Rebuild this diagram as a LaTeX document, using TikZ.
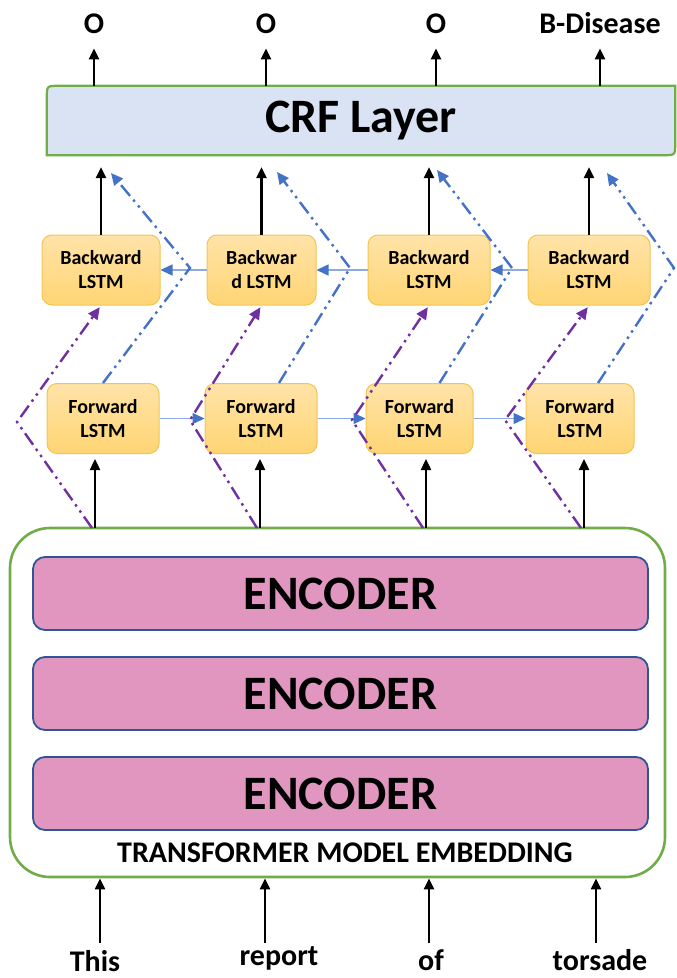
\documentclass[tikz,border=0pt]{standalone}
\usepackage{fontspec}
\setmainfont{Carlito}
\usepackage{tikz}
\usetikzlibrary{positioning,arrows.meta,calc,backgrounds}
\definecolor{CrfFill}{HTML}{DAE3F3}
\definecolor{Frame}{HTML}{70AD47}
\definecolor{EncFill}{HTML}{E096BF}
\definecolor{EncLine}{HTML}{2F5597}
\definecolor{LstmTop}{HTML}{FFE3A8}
\definecolor{LstmBot}{HTML}{FFD574}
\definecolor{LstmLine}{HTML}{F2C552}
\definecolor{FwdC}{HTML}{4472C4}
\definecolor{BwdC}{HTML}{7030A0}
\definecolor{Link}{HTML}{8FAADC}
\newcommand{\fsz}[2]{\fontsize{#1pt}{#2pt}\selectfont\bfseries}

\begin{document}
\begin{tikzpicture}[x=1pt,y=-1pt,
  tag/.style={font=\fsz{30}{30},inner sep=0pt,anchor=base},
  lstm/.style={draw=LstmLine,line width=1pt,rounded corners=10pt,
               top color=LstmTop,bottom color=LstmBot,minimum height=70pt,
               inner sep=0pt,align=center,font=\fsz{20}{24}},
  enc/.style={draw=EncLine,line width=1.8pt,rounded corners=12pt,fill=EncFill,
              minimum width=615pt,minimum height=73pt,inner sep=0pt,font=\fsz{48}{48}},
  up/.style={-{Triangle[length=11pt,width=10pt]},line width=2.4pt},
  hop/.style={-{Triangle[length=12pt,width=11pt,color=FwdC]},draw=Link,line width=1.4pt},
  dd/.style={-{Triangle[length=12pt,width=11pt]},line width=2.4pt,
             dash pattern=on 14pt off 5pt on 2.5pt off 5pt on 2.5pt off 5pt}]

\useasboundingbox (0,0) rectangle (677,978);

% output tags
\node[tag] (o1) at (94,33)  {O};
\node[tag] (o2) at (266,33) {O};
\node[tag] (o3) at (436,33) {O};
\node[tag] (o4) at (600,33) {B-Disease};

% CRF layer, two corners rounded
\node[font=\fsz{48}{48},minimum width=628pt,minimum height=69pt,inner sep=0pt] (crf)
  at (361,120.5) {CRF Layer};
\begin{scope}[on background layer]
  \draw[Frame,line width=2.2pt,fill=CrfFill] (crf.south west)
    -- ($(crf.north west)+(0,12)$) .. controls (crf.north west) .. ($(crf.north west)+(12,0)$)
    -- (crf.north east)
    -- ($(crf.south east)+(0,-12)$) .. controls (crf.south east) .. ($(crf.south east)+(-12,0)$)
    -- cycle;
\end{scope}

% BiLSTM
\node[lstm,minimum width=118pt] (b1) at (101,270)   {Backward\\LSTM};
\node[lstm,minimum width=109pt] (b2) at (261.5,270) {Backwar\\d LSTM};
\node[lstm,minimum width=122pt] (b3) at (429,270)   {Backward\\LSTM};
\node[lstm,minimum width=122pt] (b4) at (589,270)   {Backward\\LSTM};
\node[lstm,minimum width=112pt] (f1) at (103,418.5)   {Forward\\LSTM};
\node[lstm,minimum width=112pt] (f2) at (261,418.5)   {Forward\\LSTM};
\node[lstm,minimum width=107pt] (f3) at (419.5,418.5) {Forward\\LSTM};
\node[lstm,minimum width=108pt] (f4) at (580,418.5)   {Forward\\LSTM};

% transformer block
\node[draw=Frame,line width=2.6pt,rounded corners=40pt,fill=white,
      minimum width=655pt,minimum height=349pt] (emb) at (337.5,702.5) {};
\node[enc] (e1) at (340.5,593.5) {ENCODER};
\node[enc] (e2) at (340.5,693.5) {ENCODER};
\node[enc] (e3) at (340.5,793.5) {ENCODER};
\node[tag] (embl) at (345,862) {TRANSFORMER MODEL EMBEDDING};

% input words
\node[tag] (w1) at (95,971)  {This};
\node[tag] (w2) at (279,965) {report};
\node[tag] (w3) at (431,970) {of};
\node[tag] (w4) at (600,970) {torsade};

% arrow feet and bends
\coordinate (i1) at (100,943); \coordinate (i2) at (265,943);
\coordinate (i3) at (429,943); \coordinate (i4) at (596,943);
\coordinate (a1) at (95,528);  \coordinate (a2) at (260,528);
\coordinate (a3) at (426,528); \coordinate (a4) at (584,528);
\coordinate (k1) at (190,268); \coordinate (k2) at (350,268);
\coordinate (k3) at (512,268); \coordinate (k4) at (674,268);
\coordinate (t1) at (111,173); \coordinate (t2) at (277,172);
\coordinate (t3) at (437,170); \coordinate (t4) at (607,173);
\coordinate (p1) at (17,422);  \coordinate (p2) at (190,420);
\coordinate (p3) at (352,420); \coordinate (p4) at (505,420);

% main flow
\foreach \i in {i1,i2,i3,i4} \draw[up] (\i) -- (\i |- emb.south);
\foreach \a/\f in {a1/f1,a2/f2,a3/f3,a4/f4} \draw[up,shorten >=5pt] (\a) -- (\a |- \f.south);
\foreach \b in {b1,b2,b3,b4} \draw[up,shorten >=12pt] (\b.north) -- (\b.north |- crf.south);
\foreach \o in {o1,o2,o3,o4} \draw[up,shorten >=15pt] (crf.north -| \o) -- (\o.south);

% recurrent links
\foreach \x/\y in {f1/f2,f2/f3,f3/f4} \draw[hop] (\x) -- (\y);
\foreach \x/\y in {b2/b1,b3/b2,b4/b3} \draw[hop] (\x) -- (\y);

% skip paths
\foreach \f/\s/\k/\t in {f1/0/k1/t1,f2/18/k2/t2,f3/20/k3/t3,f4/18/k4/t4}
  \draw[dd,FwdC] ([xshift=\s pt]\f.north) -- (\k) -- (\t);
\foreach \a/\p/\b in {a1/p1/b1,a2/p2/b2,a3/p3/b3,a4/p4/b4}
  \draw[dd,BwdC,shorten >=2pt] ([xshift=-3pt]\a) -- (\p) -- (\b.south);

\end{tikzpicture}
\end{document}
